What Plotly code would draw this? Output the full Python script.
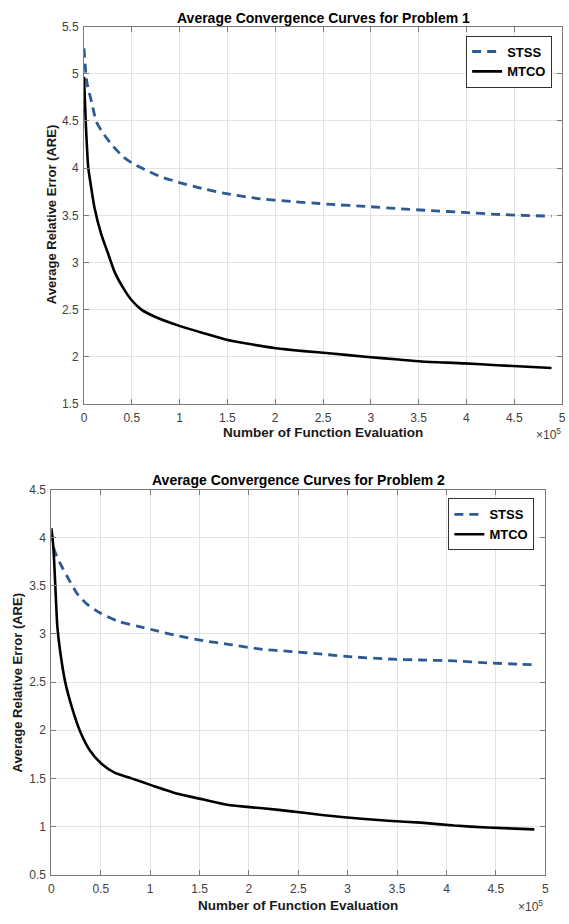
import plotly.graph_objects as go

# ---------------- data (x in units of 1e5 function evaluations) ----------------
p1_stss_x = [0, 0.03, 0.08, 0.13, 0.2, 0.29, 0.41, 0.51, 0.67, 0.8, 0.99, 1.25, 1.49, 1.8, 2.18,
             2.46, 2.59, 2.94, 3.29, 3.63, 3.98, 4.32, 4.89]
p1_stss_y = [5.27, 4.91, 4.70, 4.49, 4.37, 4.25, 4.12, 4.05, 3.97, 3.91, 3.85, 3.78, 3.73, 3.68, 3.645,
             3.625, 3.615, 3.595, 3.57, 3.55, 3.53, 3.51, 3.49]

p1_mtco_x = [0, 0.02, 0.045, 0.07, 0.11, 0.18, 0.25, 0.32, 0.41, 0.49, 0.6, 0.73, 0.99, 1.25, 1.49,
             1.7, 2.01, 2.3, 2.59, 2.94, 3.29, 3.53, 3.98, 4.32, 4.89]
p1_mtco_y = [4.97, 4.45, 4.0, 3.83, 3.58, 3.30, 3.10, 2.90, 2.73, 2.61, 2.50, 2.43, 2.33, 2.25, 2.18,
             2.14, 2.09, 2.06, 2.035, 2.0, 1.97, 1.95, 1.93, 1.91, 1.88]

p2_stss_x = [0, 0.03, 0.09, 0.18, 0.26, 0.36, 0.49, 0.68, 0.88, 1.08, 1.28, 1.54, 1.81, 2.14,
             2.41, 2.74, 3.08, 3.41, 3.74, 4.08, 4.41, 4.76, 4.9]
p2_stss_y = [4.05, 3.87, 3.73, 3.56, 3.42, 3.31, 3.22, 3.13, 3.08, 3.03, 2.98, 2.93, 2.89, 2.84,
             2.82, 2.79, 2.76, 2.74, 2.73, 2.72, 2.70, 2.685, 2.68]

p2_mtco_x = [0, 0.02, 0.04, 0.06, 0.09, 0.14, 0.21, 0.29, 0.39, 0.51, 0.64, 0.81, 1.01, 1.28, 1.54,
             1.81, 2.14, 2.41, 2.74, 3.14, 3.41, 3.74, 4.08, 4.41, 4.89]
p2_mtco_y = [4.10, 3.90, 3.49, 3.08, 2.81, 2.50, 2.23, 1.99, 1.79, 1.65, 1.56, 1.50, 1.43, 1.34, 1.28,
             1.22, 1.19, 1.16, 1.12, 1.08, 1.06, 1.04, 1.01, 0.99, 0.97]

x_ticks = [0, 0.5, 1, 1.5, 2, 2.5, 3, 3.5, 4, 4.5, 5]
x_tick_labels = ["0", "0.5", "1", "1.5", "2", "2.5", "3", "3.5", "4", "4.5", "5"]
y1_ticks = [1.5, 2, 2.5, 3, 3.5, 4, 4.5, 5, 5.5]
y1_tick_labels = ["1.5", "2", "2.5", "3", "3.5", "4", "4.5", "5", "5.5"]
y2_ticks = [0.5, 1, 1.5, 2, 2.5, 3, 3.5, 4, 4.5]
y2_tick_labels = ["0.5", "1", "1.5", "2", "2.5", "3", "3.5", "4", "4.5"]

titles = ["Average Convergence Curves for Problem 1", "Average Convergence Curves for Problem 2"]
x_title = "Number of Function Evaluation"
y_title = "Average Relative Error (ARE)"
series_names = ["STSS", "MTCO"]

# ---------------- styling ----------------
W, H = 569, 924
FONT = "Liberation Sans, Arial, Helvetica, sans-serif"
BLUE = "#2b5b92"
TXT = "#262626"
TICKC = "#404040"
AXC = "#7a7a7a"
GRID = "#e3e3e3"

def px_x(px):
    return px / W

def px_y(py):
    return 1 - py / H

fig = go.Figure()

fig.add_trace(go.Scatter(x=p1_stss_x, y=p1_stss_y, name=series_names[0], mode="lines",
                         line=dict(color=BLUE, width=2.8, dash="9px,6px", shape="spline", smoothing=0.6),
                         xaxis="x", yaxis="y", legend="legend"))
fig.add_trace(go.Scatter(x=p1_mtco_x, y=p1_mtco_y, name=series_names[1], mode="lines",
                         line=dict(color="black", width=2.6, shape="spline", smoothing=0.6),
                         xaxis="x", yaxis="y", legend="legend"))
fig.add_trace(go.Scatter(x=p2_stss_x, y=p2_stss_y, name=series_names[0], mode="lines",
                         line=dict(color=BLUE, width=2.8, dash="9px,6px", shape="spline", smoothing=0.6),
                         xaxis="x2", yaxis="y2", legend="legend2"))
fig.add_trace(go.Scatter(x=p2_mtco_x, y=p2_mtco_y, name=series_names[1], mode="lines",
                         line=dict(color="black", width=2.6, shape="spline", smoothing=0.6),
                         xaxis="x2", yaxis="y2", legend="legend2"))

def axis_common():
    return dict(showline=True, linecolor=AXC, linewidth=1, mirror="ticks",
                ticks="inside", ticklen=5, tickwidth=1, tickcolor=AXC,
                showgrid=True, gridcolor=GRID, gridwidth=1, zeroline=False,
                ticklabeloverflow="allow",
                tickfont=dict(family=FONT, size=12, color=TICKC), fixedrange=True)

fig.update_layout(
    width=W, height=H,
    margin=dict(l=0, r=0, t=0, b=0),
    paper_bgcolor="white", plot_bgcolor="white",
    font=dict(family=FONT, color=TXT),
    hovermode=False,
    xaxis=dict(domain=[px_x(82), px_x(566)], range=[0, 5], tickvals=x_ticks, ticktext=x_tick_labels,
               anchor="y", ticklabelstandoff=3, **axis_common()),
    yaxis=dict(domain=[px_y(403), px_y(20)], range=[1.5, 5.5], tickvals=y1_ticks, ticktext=y1_tick_labels,
               anchor="x", ticklabelstandoff=2, **axis_common()),
    xaxis2=dict(domain=[px_x(49), px_x(549)], range=[0, 5], tickvals=x_ticks, ticktext=x_tick_labels,
                anchor="y2", ticklabelstandoff=3, **axis_common()),
    yaxis2=dict(domain=[px_y(881), px_y(490)], range=[0.5, 4.5], tickvals=y2_ticks, ticktext=y2_tick_labels,
                anchor="x2", ticklabelstandoff=2, **axis_common()),
    legend=dict(x=px_x(556), xanchor="right", y=px_y(29), yanchor="top",
                bgcolor="white", bordercolor="#333333", borderwidth=1,
                font=dict(family=FONT, size=13, color="black", weight="bold"),
                itemwidth=30, tracegroupgap=0),
    legend2=dict(x=px_x(538), xanchor="right", y=px_y(499), yanchor="top",
                 bgcolor="white", bordercolor="#333333", borderwidth=1,
                 font=dict(family=FONT, size=13, color="black", weight="bold"),
                 itemwidth=30, tracegroupgap=0),
    showlegend=True,
)

title_font = dict(family=FONT, size=14, color="black", weight="bold")
xlab_font = dict(family=FONT, size=13.5, color="#1a1a1a", weight="bold")
ylab_font = dict(family=FONT, size=13, color="#1a1a1a", weight="bold")
ann = [
    dict(text=titles[0], x=px_x(324), y=px_y(11), xanchor="center", yanchor="middle", font=title_font),
    dict(text=titles[1], x=px_x(299), y=px_y(480), xanchor="center", yanchor="middle", font=title_font),
    dict(text=x_title, x=px_x(324), y=px_y(432), xanchor="center", yanchor="middle", font=xlab_font),
    dict(text=x_title, x=px_x(299), y=px_y(912), xanchor="center", yanchor="middle", font=xlab_font),
    dict(text=y_title, x=px_x(49), y=px_y(211), xanchor="center", yanchor="middle", textangle=-90, font=ylab_font),
    dict(text=y_title, x=px_x(15), y=px_y(686), xanchor="center", yanchor="middle", textangle=-90, font=ylab_font),
    dict(text="×10<sup>5</sup>", x=px_x(567), y=px_y(434), xanchor="right", yanchor="middle",
         font=dict(family=FONT, size=12, color=TICKC)),
    dict(text="×10<sup>5</sup>", x=px_x(549), y=px_y(913), xanchor="right", yanchor="middle",
         font=dict(family=FONT, size=12, color=TICKC)),
]
for a in ann:
    a.update(xref="paper", yref="paper", showarrow=False)
fig.update_layout(annotations=ann)

fig.write_html("out.html",
               config={"displayModeBar": False, "staticPlot": True},
               post_script="document.body.style.margin='0';document.body.style.overflow='hidden';")
